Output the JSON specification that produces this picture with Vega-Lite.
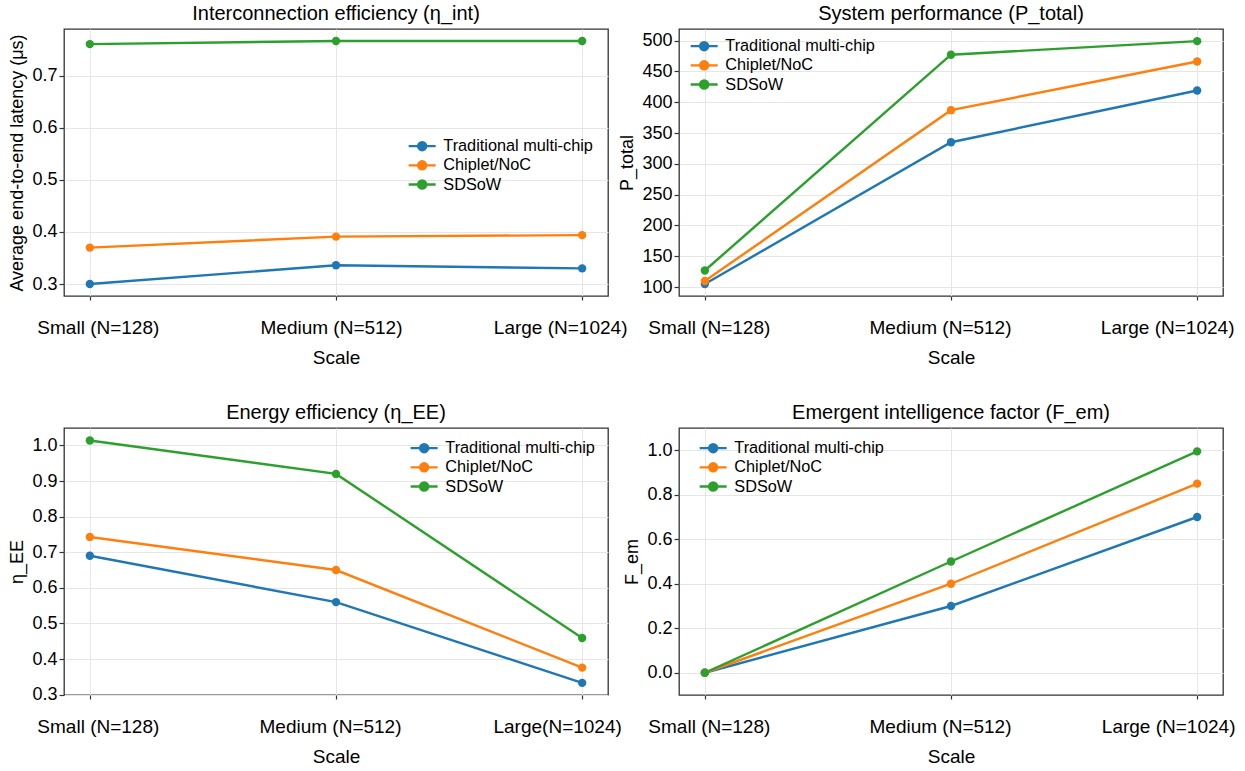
{
  "$schema": "https://vega.github.io/schema/vega-lite/v6.json",
  "background": "white",
  "padding": {"left": 8, "top": 3, "right": 5, "bottom": 5},
  "bounds": "flush",
  "columns": 2,
  "spacing": {"row": 132, "column": 71},
  "resolve": {"legend": {"color": "independent"}},
  "datasets": {
    "p1": [
      {"scale": "Small (N=128)", "system": "Traditional multi-chip", "value": 0.300},
      {"scale": "Medium (N=512)", "system": "Traditional multi-chip", "value": 0.336},
      {"scale": "Large (N=1024)", "system": "Traditional multi-chip", "value": 0.330},
      {"scale": "Small (N=128)", "system": "Chiplet/NoC", "value": 0.370},
      {"scale": "Medium (N=512)", "system": "Chiplet/NoC", "value": 0.391},
      {"scale": "Large (N=1024)", "system": "Chiplet/NoC", "value": 0.394},
      {"scale": "Small (N=128)", "system": "SDSoW", "value": 0.761},
      {"scale": "Medium (N=512)", "system": "SDSoW", "value": 0.767},
      {"scale": "Large (N=1024)", "system": "SDSoW", "value": 0.767}
    ],
    "p2": [
      {"scale": "Small (N=128)", "system": "Traditional multi-chip", "value": 105},
      {"scale": "Medium (N=512)", "system": "Traditional multi-chip", "value": 335},
      {"scale": "Large (N=1024)", "system": "Traditional multi-chip", "value": 419},
      {"scale": "Small (N=128)", "system": "Chiplet/NoC", "value": 110},
      {"scale": "Medium (N=512)", "system": "Chiplet/NoC", "value": 387},
      {"scale": "Large (N=1024)", "system": "Chiplet/NoC", "value": 466},
      {"scale": "Small (N=128)", "system": "SDSoW", "value": 127},
      {"scale": "Medium (N=512)", "system": "SDSoW", "value": 477},
      {"scale": "Large (N=1024)", "system": "SDSoW", "value": 499}
    ],
    "p3": [
      {"scale": "Small (N=128)", "system": "Traditional multi-chip", "value": 0.690},
      {"scale": "Medium (N=512)", "system": "Traditional multi-chip", "value": 0.560},
      {"scale": "Large(N=1024)", "system": "Traditional multi-chip", "value": 0.333},
      {"scale": "Small (N=128)", "system": "Chiplet/NoC", "value": 0.743},
      {"scale": "Medium (N=512)", "system": "Chiplet/NoC", "value": 0.650},
      {"scale": "Large(N=1024)", "system": "Chiplet/NoC", "value": 0.376},
      {"scale": "Small (N=128)", "system": "SDSoW", "value": 1.014},
      {"scale": "Medium (N=512)", "system": "SDSoW", "value": 0.920},
      {"scale": "Large(N=1024)", "system": "SDSoW", "value": 0.459}
    ],
    "p4": [
      {"scale": "Small (N=128)", "system": "Traditional multi-chip", "value": 0.0},
      {"scale": "Medium (N=512)", "system": "Traditional multi-chip", "value": 0.30},
      {"scale": "Large (N=1024)", "system": "Traditional multi-chip", "value": 0.70},
      {"scale": "Small (N=128)", "system": "Chiplet/NoC", "value": 0.0},
      {"scale": "Medium (N=512)", "system": "Chiplet/NoC", "value": 0.40},
      {"scale": "Large (N=1024)", "system": "Chiplet/NoC", "value": 0.85},
      {"scale": "Small (N=128)", "system": "SDSoW", "value": 0.0},
      {"scale": "Medium (N=512)", "system": "SDSoW", "value": 0.50},
      {"scale": "Large (N=1024)", "system": "SDSoW", "value": 0.995}
    ]
  },
  "concat": [
    {
      "width": 544, "height": 267,
      "title": "Interconnection efficiency (η_int)",
      "data": {"name": "p1"},
      "mark": {"type": "line", "strokeWidth": 2.4, "point": {"filled": true, "size": 70}},
      "encoding": {
        "x": {"field": "scale", "type": "nominal", "sort": null, "scale": {"type": "point", "padding": 0.105},
          "axis": {"title": "Scale", "labelOffset": {"condition": [{"test": "datum.index == 1", "value": -22}, {"test": "datum.index == 0", "value": 8}], "value": -5}}},
        "y": {"field": "value", "type": "quantitative", "scale": {"domain": [0.277, 0.79], "nice": false, "zero": false}, "axis": {"title": "Average end-to-end latency (μs)", "values": [0.3, 0.4, 0.5, 0.6, 0.7], "format": ".1f"}},
        "color": {"field": "system", "type": "nominal", "scale": {"domain": ["Traditional multi-chip", "Chiplet/NoC", "SDSoW"], "range": ["#1f77b4", "#ff7f0e", "#2ca02c"]},
          "legend": {"orient": "none", "legendX": 350, "legendY": 109}}
      }
    },
    {
      "width": 544, "height": 267,
      "title": "System performance (P_total)",
      "data": {"name": "p2"},
      "mark": {"type": "line", "strokeWidth": 2.4, "point": {"filled": true, "size": 70}},
      "encoding": {
        "x": {"field": "scale", "type": "nominal", "sort": null, "scale": {"type": "point", "padding": 0.105},
          "axis": {"title": "Scale", "labelOffset": {"condition": [{"test": "datum.index == 1", "value": -30}, {"test": "datum.index == 0", "value": 4}], "value": -11}}},
        "y": {"field": "value", "type": "quantitative", "scale": {"domain": [85.6, 518.7], "nice": false, "zero": false}, "axis": {"title": "P_total", "values": [100, 150, 200, 250, 300, 350, 400, 450, 500]}},
        "color": {"field": "system", "type": "nominal", "scale": {"domain": ["Traditional multi-chip", "Chiplet/NoC", "SDSoW"], "range": ["#1f77b4", "#ff7f0e", "#2ca02c"]},
          "legend": {"orient": "none", "legendX": 17, "legendY": 9}}
      }
    },
    {
      "width": 544, "height": 267,
      "title": "Energy efficiency (η_EE)",
      "data": {"name": "p3"},
      "mark": {"type": "line", "strokeWidth": 2.4, "point": {"filled": true, "size": 70}},
      "encoding": {
        "x": {"field": "scale", "type": "nominal", "sort": null, "scale": {"type": "point", "padding": 0.105},
          "axis": {"title": "Scale", "labelOffset": {"condition": [{"test": "datum.index == 1", "value": -25}, {"test": "datum.index == 0", "value": 8}], "value": -6}}},
        "y": {"field": "value", "type": "quantitative", "scale": {"domain": [0.299, 1.049], "nice": false, "zero": false}, "axis": {"title": "η_EE", "values": [0.3, 0.4, 0.5, 0.6, 0.7, 0.8, 0.9, 1.0], "format": ".1f"}},
        "color": {"field": "system", "type": "nominal", "scale": {"domain": ["Traditional multi-chip", "Chiplet/NoC", "SDSoW"], "range": ["#1f77b4", "#ff7f0e", "#2ca02c"]},
          "legend": {"orient": "none", "legendX": 352, "legendY": 12}}
      }
    },
    {
      "width": 544, "height": 267,
      "title": "Emergent intelligence factor (F_em)",
      "data": {"name": "p4"},
      "mark": {"type": "line", "strokeWidth": 2.4, "point": {"filled": true, "size": 70}},
      "encoding": {
        "x": {"field": "scale", "type": "nominal", "sort": null, "scale": {"type": "point", "padding": 0.105},
          "axis": {"title": "Scale", "labelOffset": {"condition": [{"test": "datum.index == 1", "value": -29}, {"test": "datum.index == 0", "value": 4}], "value": -11}}},
        "y": {"field": "value", "type": "quantitative", "scale": {"domain": [-0.1, 1.1], "nice": false, "zero": false}, "axis": {"title": "F_em", "values": [0.0, 0.2, 0.4, 0.6, 0.8, 1.0], "format": ".1f"}},
        "color": {"field": "system", "type": "nominal", "scale": {"domain": ["Traditional multi-chip", "Chiplet/NoC", "SDSoW"], "range": ["#1f77b4", "#ff7f0e", "#2ca02c"]},
          "legend": {"orient": "none", "legendX": 26, "legendY": 12}}
      }
    }
  ],
  "config": {
    "font": "Liberation Sans",
    "view": {"stroke": "#333333", "strokeWidth": 1.3},
    "axis": {"domain": false, "grid": true, "gridColor": "#e6e6e6", "gridWidth": 1, "tickColor": "#333333", "tickWidth": 1.2, "labelFontSize": 18, "titleFontSize": 18, "titleFontWeight": "normal", "labelColor": "#000000", "titleColor": "#000000", "labelFont": "Liberation Sans", "titleFont": "Liberation Sans"},
    "axisX": {"tickSize": 4, "labelPadding": 18, "titlePadding": 11, "labelAngle": 0, "labelFontSize": 19, "titleFontSize": 19},
    "axisY": {"tickSize": 5, "labelPadding": 2, "titlePadding": 5},
    "title": {"fontSize": 20, "fontWeight": "normal", "color": "#000000", "offset": 5, "anchor": "middle", "frame": "group", "font": "Liberation Sans"},
    "legend": {
      "title": null,
      "padding": 0,
      "labelFontSize": 16.3,
      "labelColor": "#000000",
      "labelFont": "Liberation Sans",
      "labelOffset": 13,
      "rowPadding": 1.2,
      "symbolType": "M-2,0L2,0M-0.6,0A0.6,0.6,0,1,0,0.6,0A0.6,0.6,0,1,0,-0.6,0",
      "symbolSize": 182,
      "symbolStrokeWidth": 2.4,
      "symbolOpacity": 1
    }
  }
}
